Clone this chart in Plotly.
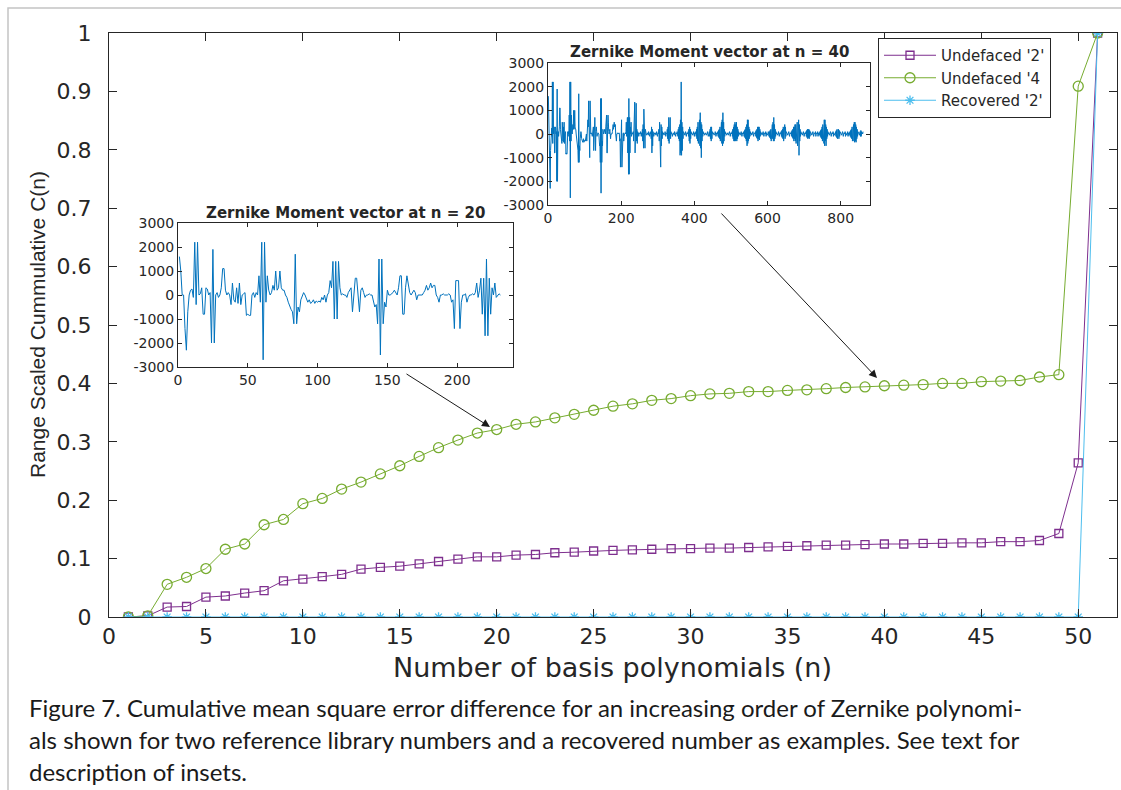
import plotly.graph_objects as go

# ---------------- data ----------------
n_values = list(range(1, 52))

undefaced_2 = [0, 0.002, 0.017, 0.018, 0.034, 0.036, 0.041, 0.045, 0.062, 0.065,
               0.069, 0.073, 0.082, 0.085, 0.087, 0.091, 0.095, 0.099, 0.103, 0.103,
               0.106, 0.107, 0.110, 0.111, 0.113, 0.114, 0.115, 0.116, 0.117, 0.117,
               0.118, 0.118, 0.119, 0.120, 0.121, 0.122, 0.123, 0.123, 0.124, 0.125,
               0.125, 0.126, 0.126, 0.127, 0.127, 0.129, 0.129, 0.131, 0.143, 0.264,
               1.0]

undefaced_4 = [0, 0.002, 0.056, 0.068, 0.083, 0.116, 0.125, 0.158, 0.167, 0.194,
               0.203, 0.219, 0.231, 0.245, 0.259, 0.275, 0.290, 0.303, 0.315, 0.321,
               0.330, 0.334, 0.341, 0.347, 0.354, 0.361, 0.365, 0.371, 0.374, 0.379,
               0.382, 0.383, 0.386, 0.386, 0.388, 0.389, 0.391, 0.393, 0.394, 0.396,
               0.397, 0.398, 0.400, 0.400, 0.403, 0.404, 0.405, 0.411, 0.415, 0.909,
               1.0]

recovered_2 = [0, 0, 0, 0, 0, 0, 0, 0, 0, 0,
               0, 0, 0, 0, 0, 0, 0, 0, 0, 0,
               0, 0, 0, 0, 0, 0, 0, 0, 0, 0,
               0, 0, 0, 0, 0, 0, 0, 0, 0, 0,
               0, 0, 0, 0, 0, 0, 0, 0, 0, 0,
               1.0]

series_names = ["Undefaced '2'", "Undefaced '4", "Recovered '2'"]

# Zernike moment vector at n = 20 (231 moments)
zm_n20 = [
    1600, 1000, 0, 0, -1400, -2300, -700, 0, 200, 250, -100, 2200, -400, 2200, 0, 50, 300, -800, -800, 300,
    250, 0, 100, -2000, 1900, -2000, 0, 100, -100, 0, 300, 1100, 1100, 200, 0, 100, 0, -400, 500, -200,
    -300, 300, -350, 500, -400, 0, 50, 100, -850, -800, -850, -850, 0, 100, -100, 100, 0, 800, -300, 2200,
    -2700, 2200, -300, 800, 200, 0, 100, 400, 200, 1000, 200, 300, 1000, 300, 200, 200, 0, -100, -300, -500,
    -600, -700, -1200, 1700, -1200, -500, -700, -200, 0, 100, 0, -200, -300, -200, -350, -300, -200, -350, -250, -300,
    -250, -300, -100, -200, 0, -300, 0, 100, 600, 300, 1400, -1000, 1400, -1000, 1400, 300, 0, 50, 0, 0,
    -100, 100, 200, 300, -700, 200, 700, 700, 100, -700, 200, 300, 100, -100, 0, 0, 50, 0, 0, -200,
    -500, -400, -1200, 1500, -2500, 1500, -1200, -300, -500, 200, 0, 0, 50, 100, 200, 100, 0, 300, 800, 800,
    -800, -800, 300, 800, 500, 100, 0, 100, 200, 100, -200, 0, 0, 0, 0, 100, 200, 400, 200, 300,
    500, 300, 400, 400, 0, -100, -300, 0, 0, 50, 0, 0, 0, 50, 0, -300, -200, -1400, 600, 600,
    600, -1400, -300, 0, 0, 50, -300, -100, 0, 0, 50, 0, 100, 500, -100, 200, 700, -800, 700, -1700,
    1500, -1700, 700, -800, 300, 0, 500, -100, 0, 50, 0,
]

# Moments 232..861 of the vector at n = 40 (its first 231 equal the n = 20 vector)
zm_n40_higher = [
    0, 100, -300, 1300, -200, 1350, -800, 600, -500, 1300, -300, 200, -400, 100, 0, 50, -100, 0, 50, 0,
    0, 100, 0, -100, 50, 0, 200, -300, 400, -600, 1050, -400, 300, -600, 200, 0, 100, -50, 0, 0,
    50, 0, -50, 100, 0, 0, -100, 50, 0, 100, -200, 300, -800, 200, -500, 100, 0, -100, 0, 50,
    0, 0, 50, -50, 0, 100, 0, -100, 0, 50, 0, 200, -300, 500, -400, 300, -1400, 400, -500, 300,
    -200, 100, 0, 50, 0, -50, 0, 0, 100, 0, -100, 50, 0, 0, 200, -200, 300, -300, 700, -400,
    600, -300, 700, -200, 100, 0, 50, 0, -100, 0, 0, 50, 0, -50, 100, 0, 0, -100, 50, 0,
    0, 100, 0, -100, 200, -200, 300, -300, 400, -900, 600, -800, 2200, -900, 500, -700, 300, -200, 100, 0,
    50, 0, -50, 0, 100, 0, -100, 0, 50, 0, 0, 100, -100, 200, -300, 300, -400, 200, -200, 100,
    0, 50, 0, -50, 0, 0, 100, 0, -100, 50, 0, 0, 100, -100, 200, -200, 300, -300, 500, -400,
    300, -300, 600, -500, 900, -600, 500, -1000, 400, -300, 200, -100, 100, 0, 50, 0, -50, 0, 0, 50,
    0, -50, 0, 0, 100, 0, -100, 0, 50, 100, -100, 200, -200, 300, -300, 300, -200, 100, 0, 0,
    50, 0, -50, 0, 0, 100, 0, -100, 0, 50, 0, 0, 100, -100, 150, -150, 200, -200, 300, -300,
    400, -300, 500, -400, 600, -500, 900, -400, 500, -300, 200, -100, 100, 0, 50, 0, -50, 0, 0, 50,
    0, -50, 0, 0, 100, 0, -100, 0, 50, 0, 0, 100, -100, 200, -200, 300, -300, 400, -300, 500,
    -300, 400, -200, 500, -300, 300, -200, 200, -100, 100, 0, 50, 0, -50, 0, 0, 100, 0, -100, 0,
    50, 0, 0, 100, -100, 150, -150, 200, -200, 300, -300, 400, -500, 600, -400, 600, -300, 300, -200, 200,
    -100, 100, 0, 50, 0, -50, 0, 0, 100, 0, -100, 0, 50, 0, 0, 100, -100, 150, -150, 200,
    -200, 300, -300, 300, -200, 300, -250, 200, -100, 100, 0, 50, 0, -50, 0, 0, 100, 0, -100, 0,
    50, 0, 0, 100, -100, 50, 0, -50, 0, 0, 100, 0, -100, 100, -150, 150, -200, 200, -300, 300,
    -300, 400, -200, 500, -300, 700, -300, 400, -200, 200, -100, 100, 0, 50, 0, -50, 0, 0, 100, 0,
    -100, 0, 50, 0, 0, 100, -100, 150, -150, 200, -200, 300, -300, 400, -250, 400, -200, 300, -100, 100,
    0, 50, 0, -50, 0, 0, 100, 0, -100, 0, 50, 0, 0, 100, -100, 150, -150, 200, -200, 300,
    -300, 300, -200, 400, -300, 400, -400, 300, -300, 500, -500, 600, -400, 600, -900, 400, -300, 200, -100, 100,
    0, 50, 0, -50, 0, 0, 100, 0, -100, 0, 50, 0, 0, 100, -100, 150, -150, 200, -200, 200,
    -150, 200, -200, 150, -100, 100, 0, 50, 0, -50, 0, 0, 100, 0, -100, 0, 50, 0, 0, 100,
    -100, 0, 50, 0, 0, 100, -100, 50, 0, -50, 0, 100, -100, 150, -150, 200, -200, 300, -300, 400,
    -300, 400, -400, 600, -500, 600, -300, 400, -500, 300, -200, 200, -100, 100, 0, 50, 0, -50, 0, 0,
    100, 0, -100, 0, 50, 0, 0, 100, -100, 50, 0, -50, 0, 0, 100, -100, 150, -150, 200, -200,
    200, -150, 200, -200, 150, -100, 100, 0, 50, 0, -50, 0, 0, 100, 0, -100, 0, 50, 0, 0,
    100, -100, 50, 0, -50, 0, 0, 100, -100, 50, 0, -50, 0, 100, -100, 150, -150, 200, -200, 300,
    -300, 300, -200, 400, -300, 500, -350, 500, -300, 400, -350, 300, -200, 200, -100, 100, 0, 50, 0, -50,
    0, 100, -100, 150, -100, 100, 0, 50, 0, 100,
]
zm_n40 = zm_n20 + zm_n40_higher

main_xticks = [0, 5, 10, 15, 20, 25, 30, 35, 40, 45, 50]
main_yticks = [0, 0.1, 0.2, 0.3, 0.4, 0.5, 0.6, 0.7, 0.8, 0.9, 1]
inset_yticks = [-3000, -2000, -1000, 0, 1000, 2000, 3000]
inset_ytext = ["-3000", "-2000", "-1000", "0", "1000", "2000", "3000"]
inset20_xticks = [0, 50, 100, 150, 200]
inset40_xticks = [0, 200, 400, 600, 800]

caption_lines = [
    "Figure 7. Cumulative mean square error difference for an increasing order of Zernike polynomi-",
    "als shown for two reference library numbers and a recovered number as examples. See text for",
    "description of insets.",
]

# ---------------- layout helpers ----------------
W, H = 1121, 790
def px(x):
    return x / W
def py(y):
    return (H - y) / H

PURPLE = "#7E2F8E"
GREEN = "#77AC30"
BLUE = "#4DBEEE"
INSET = "#0072BD"
AX = "#262626"
TICKFONT = "DejaVu Sans"

fig = go.Figure()

fig.add_trace(go.Scatter(x=n_values, y=undefaced_2, name=series_names[0], mode="lines+markers",
                         line=dict(color=PURPLE, width=1),
                         marker=dict(symbol="square-open", size=8, color=PURPLE, line=dict(width=1.3))))
fig.add_trace(go.Scatter(x=n_values, y=undefaced_4, name=series_names[1], mode="lines+markers",
                         line=dict(color=GREEN, width=1),
                         marker=dict(symbol="circle-open", size=10, color=GREEN, line=dict(width=1.3))))
fig.add_trace(go.Scatter(x=n_values, y=recovered_2, name=series_names[2], mode="lines+markers",
                         line=dict(color=BLUE, width=1),
                         marker=dict(symbol="asterisk-open", size=8, color=BLUE, line=dict(width=1.3, color=BLUE))))

fig.add_trace(go.Scatter(x=list(range(1, len(zm_n20) + 1)), y=zm_n20, mode="lines",
                         line=dict(color=INSET, width=1), showlegend=False,
                         xaxis="x2", yaxis="y2"))
fig.add_trace(go.Scatter(x=list(range(1, len(zm_n40) + 1)), y=zm_n40, mode="lines",
                         line=dict(color=INSET, width=1), showlegend=False,
                         xaxis="x3", yaxis="y3"))

common_axis = dict(showline=True, linecolor=AX, linewidth=1, mirror="ticks", ticks="inside",
                   tickcolor=AX, showgrid=False, zeroline=False, automargin=False)
inset_font = dict(family=TICKFONT, size=14, color=AX)

fig.update_layout(
    template="none",
    width=W, height=H,
    margin=dict(l=0, r=0, t=0, b=0),
    paper_bgcolor="white", plot_bgcolor="white",
    xaxis=dict(domain=[px(109), px(1117)], range=[0, 52], tickvals=main_xticks,
               ticklen=8, tickfont=dict(family=TICKFONT, size=22, color=AX),
               ticklabelstandoff=0, **common_axis),
    yaxis=dict(domain=[py(617), py(33)], range=[0, 1], tickvals=main_yticks,
               ticklen=8, tickfont=dict(family=TICKFONT, size=22, color=AX),
               ticklabelstandoff=12, **common_axis),
    xaxis2=dict(domain=[px(178), px(513)], range=[0, 240], tickvals=inset20_xticks, anchor="y2",
                ticklen=4, tickfont=inset_font, **common_axis),
    yaxis2=dict(domain=[py(367), py(223)], range=[-3000, 3000], tickvals=inset_yticks,
                ticktext=inset_ytext, anchor="x2", ticklen=4, tickfont=inset_font, **common_axis),
    xaxis3=dict(domain=[px(548), px(870)], range=[0, 880], tickvals=inset40_xticks, anchor="y3",
                ticklen=4, tickfont=inset_font, **common_axis),
    yaxis3=dict(domain=[py(205), py(63)], range=[-3000, 3000], tickvals=inset_yticks,
                ticktext=inset_ytext, anchor="x3", ticklen=4, tickfont=inset_font, **common_axis),
    legend=dict(x=px(878), y=py(38), xanchor="left", yanchor="top",
                bgcolor="white", bordercolor=AX, borderwidth=1,
                font=dict(family=TICKFONT, size=15, color=AX),
                itemwidth=52, tracegroupgap=0),
    showlegend=True,
)

annotations = [
    dict(text="Number of basis polynomials (n)", x=px(612), y=py(667), xref="paper", yref="paper",
         showarrow=False, xanchor="center", yanchor="middle",
         font=dict(family=TICKFONT, size=27, color=AX)),
    dict(text="Range Scaled Cummulative C(n)", x=px(37), y=py(325), xref="paper", yref="paper",
         showarrow=False, xanchor="center", yanchor="middle", textangle=-90,
         font=dict(family="Liberation Sans, Arial, sans-serif", size=21, color=AX)),
    dict(text="<b>Zernike Moment vector at n = 40</b>", x=px(709), y=py(52), xref="paper", yref="paper",
         showarrow=False, xanchor="center", yanchor="middle",
         font=dict(family=TICKFONT, size=15, color=AX)),
    dict(text="<b>Zernike Moment vector at n = 20</b>", x=px(345), y=py(213), xref="paper", yref="paper",
         showarrow=False, xanchor="center", yanchor="middle",
         font=dict(family=TICKFONT, size=15, color=AX)),
    dict(text="", x=px(877), y=py(378), ax=720 - 877, ay=212 - 378, xref="paper", yref="paper",
         axref="pixel", ayref="pixel", showarrow=True, arrowhead=2, arrowsize=1.6, arrowwidth=1,
         arrowcolor="#1a1a1a"),
    dict(text="", x=px(490), y=py(427), ax=405 - 490, ay=373 - 427, xref="paper", yref="paper",
         axref="pixel", ayref="pixel", showarrow=True, arrowhead=2, arrowsize=1.6, arrowwidth=1,
         arrowcolor="#1a1a1a"),
]
for i, line in enumerate(caption_lines):
    annotations.append(dict(text=line, x=px(27), y=py(707 + 32 * i), xref="paper", yref="paper",
                            showarrow=False, xanchor="left", yanchor="middle",
                            font=dict(family="Lato", size=24, color="#1a1a1a")))
fig.update_layout(annotations=annotations)

fig.add_shape(type="rect", xref="paper", yref="paper", x0=px(8), x1=1.05, y0=-0.05, y1=py(8),
              line=dict(color="#c4c4c4", width=1.5), fillcolor="rgba(0,0,0,0)", layer="below")

fig.write_html("out.html", config={"displayModeBar": False},
               post_script="document.body.style.margin='0px';document.body.style.overflow='hidden';")
